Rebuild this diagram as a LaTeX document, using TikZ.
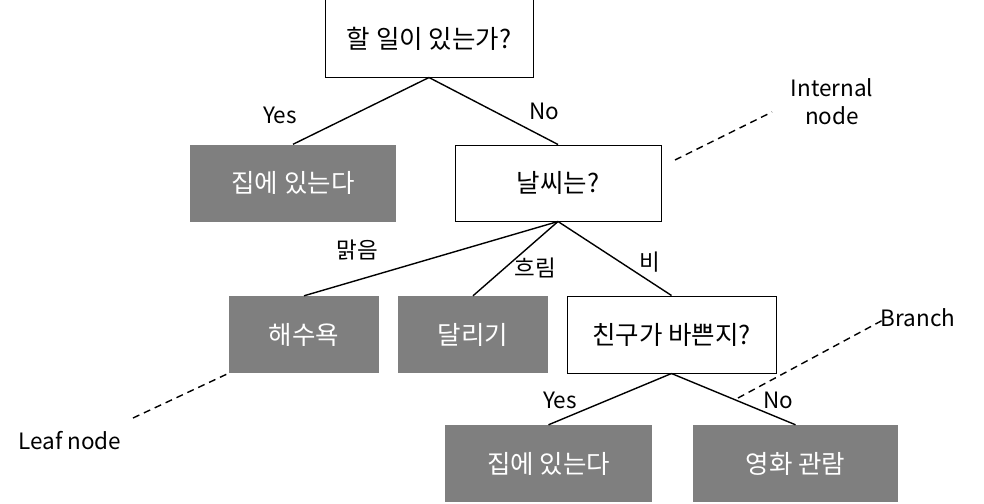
\documentclass[tikz,border=0pt]{standalone}
\usepackage{fontspec}
\setmainfont{Noto Sans CJK KR}
\definecolor{leafgray}{HTML}{7F7F7F}
\tikzset{
  qbox/.style={draw=black, line width=1pt, fill=white, minimum width=206pt, minimum height=76pt, inner sep=0pt, font=\fontsize{25.5}{28}\selectfont},
  leafbox/.style={fill=leafgray, text=white, minimum height=77pt, inner sep=0pt, font=\fontsize{25.5}{28}\selectfont},
  edge/.style={line width=1.4pt},
  lbl/.style={font=\fontsize{22.5}{28}\selectfont, inner sep=0pt},
  note/.style={line width=1.4pt, dashed, dash pattern=on 7pt off 5pt},
}
\begin{document}
\begin{tikzpicture}[x=1pt,y=-1pt]
\useasboundingbox (0,0) rectangle (984,503);
\node[qbox, minimum width=208pt, minimum height=77pt] (root) at (429,38.5) {할 일이 있는가?};
\node[leafbox, minimum width=206pt] (home1) at (293,183) {집에 있는다};
\node[qbox] (weather) at (558,183) {날씨는?};
\node[leafbox, minimum width=150pt] (beach) at (304,334.5) {해수욕};
\node[leafbox, minimum width=150pt] (run) at (473,334.5) {달리기};
\node[qbox, minimum width=209pt, minimum height=77pt] (friend) at (671.5,334.5) {친구가 바쁜지?};
\node[leafbox, minimum width=207pt] (home2) at (548.5,463.5) {집에 있는다};
\node[leafbox, minimum width=205pt] (movie) at (795.5,463.5) {영화 관람};

\draw[edge] (root.south) -- (home1.north);
\draw[edge] (root.south) -- (weather.north);
\draw[edge] (weather.south) -- (beach.north);
\draw[edge] (weather.south) -- (run.north);
\draw[edge] (weather.south) -- (friend.north);
\draw[edge] (friend.south) -- (home2.north);
\draw[edge] (friend.south) -- (movie.north);

\node[lbl] (l1) at (280,115) {Yes};
\node[lbl] (l2) at (544,111) {No};
\node[lbl] (l3) at (357,250) {맑음};
\node[lbl] (l4) at (535,268) {흐림};
\node[lbl] (l5) at (650,262) {비};
\node[lbl] (l6) at (560,400) {Yes};
\node[lbl] (l7) at (778,400) {No};

\node[lbl, align=center] (internal) at (832,102) {Internal\\node};
\node[lbl] (branch) at (918,318) {Branch};
\node[lbl] (leaf) at (70,441) {Leaf node};

\coordinate (c1a) at (675,160);
\coordinate (c1b) at (772,112);
\draw[note] (c1a) -- (c1b);
\coordinate (c2a) at (738,398);
\coordinate (c2b) at (883,320);
\draw[note] (c2a) -- (c2b);
\coordinate (c3a) at (133,418);
\draw[note] (c3a) -- (beach.south west);
\end{tikzpicture}
\end{document}
